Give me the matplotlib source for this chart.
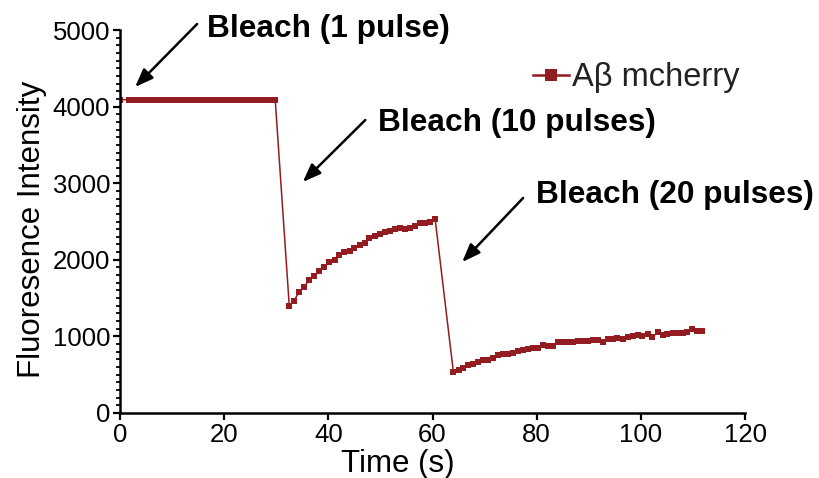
import matplotlib
matplotlib.use('Agg')
import matplotlib.pyplot as plt
from matplotlib.ticker import MultipleLocator

# Time points (s) for each part of the recording
time_pre = [0.0, 1.7, 2.7, 3.6, 4.6, 5.6, 6.5, 7.5, 8.5, 9.4, 10.4, 11.4, 12.3, 13.3,
            14.3, 15.2, 16.2, 17.2, 18.1, 19.1, 20.1, 21.0, 22.0, 23.0, 23.9, 24.9,
            25.9, 26.8, 27.8, 28.8, 29.8]
time_mid = [32.5, 33.4, 34.4, 35.4, 36.3, 37.3, 38.3, 39.2, 40.2, 41.2, 42.1, 43.1,
            44.1, 45.0, 46.0, 47.0, 47.9, 48.9, 49.9, 50.8, 51.8, 52.8, 53.7, 54.7,
            55.7, 56.6, 57.6, 58.6, 59.5, 60.5]
time_post = [64.0, 65.0, 65.9, 66.9, 67.8, 68.8, 69.7, 70.7, 71.6, 72.6, 73.6, 74.5,
             75.5, 76.4, 77.4, 78.3, 79.3, 80.3, 81.2, 82.2, 83.1, 84.1, 85.0, 86.0,
             86.9, 87.9, 88.9, 89.8, 90.8, 91.7, 92.7, 93.6, 94.6, 95.5, 96.5, 97.5,
             98.4, 99.4, 100.3, 101.3, 102.2, 103.2, 104.2, 105.1, 106.1, 107.0, 108.0,
             108.9, 109.9, 110.8, 111.8]

# Fluorescence intensity
intensity_pre = [4090] * 31
intensity_mid = [1396, 1466, 1579, 1649, 1736, 1788, 1853, 1905, 1971, 1997, 2062, 2101,
                 2118, 2153, 2197, 2223, 2284, 2314, 2340, 2358, 2379, 2405, 2418, 2401,
                 2418, 2444, 2480, 2480, 2493, 2536]
intensity_post = [539, 561, 587, 626, 639, 666, 692, 692, 722, 757, 770, 774, 787, 813,
                  826, 839, 848, 848, 891, 874, 874, 930, 930, 930, 930, 944, 944, 944,
                  957, 957, 930, 970, 970, 983, 961, 996, 1009, 1022, 1005, 1027, 988,
                  1053, 1022, 1035, 1048, 1048, 1048, 1061, 1092, 1074, 1074]

# Annotations: text, text position, arrow tail, arrow head
labels = ['Bleach (1 pulse)', 'Bleach (10 pulses)', 'Bleach (20 pulses)']
label_xy = [(16.7, 4909), (49.5, 3681), (79.9, 2742)]
arrow_tail = [(14.8, 5078), (47.1, 3825), (77.4, 2807)]
arrow_head = [(2.9, 4256), (35.1, 3016), (65.7, 1971)]

plt.rcParams['font.family'] = ['Liberation Sans', 'DejaVu Sans']

color = '#921c1f'

fig = plt.figure(figsize=(8.19, 4.78), dpi=100)
ax = fig.add_axes([120 / 819, 1 - 413 / 478, 625 / 819, 383 / 478])

times = time_pre + time_mid + time_post
values = intensity_pre + intensity_mid + intensity_post
ax.plot(times, values, color=color, linewidth=1.1, marker='s', markersize=4.8,
        markeredgewidth=0, label='Aβ mcherry')

ax.set_xlim(0, 120)
ax.set_ylim(0, 5000)
ax.xaxis.set_major_locator(MultipleLocator(20))
ax.yaxis.set_major_locator(MultipleLocator(1000))
ax.yaxis.set_minor_locator(MultipleLocator(100))

for side in ['top', 'right']:
    ax.spines[side].set_visible(False)
for side in ['left', 'bottom']:
    ax.spines[side].set_linewidth(1.8)
    ax.spines[side].set_color('black')

ax.tick_params(axis='both', which='major', direction='out', length=5, width=1.6,
               labelsize=18.5, pad=2)
ax.tick_params(axis='y', which='minor', direction='out', length=2.6, width=1.3)

ax.set_xlabel('Time (s)', fontsize=22.5, va='top')
ax.xaxis.set_label_coords(0.445, -0.095)
ax.set_ylabel('Fluoresence Intensity', fontsize=22.5)
ax.yaxis.set_label_coords(-0.117, 0.48)

# Arrows and labels for the bleach pulses
for text, pos, tail, head in zip(labels, label_xy, arrow_tail, arrow_head):
    ax.annotate('', xy=head, xytext=tail,
                arrowprops=dict(arrowstyle='-|>,head_length=1.1,head_width=0.42',
                                color='black', linewidth=1.8, shrinkA=0, shrinkB=0),
                annotation_clip=False)
    ax.text(pos[0], pos[1], text, fontsize=22.8, fontweight='bold', ha='left',
            va='baseline', clip_on=False)

leg = ax.legend(loc='center left', bbox_to_anchor=(0.661, 0.875), frameon=False,
                fontsize=23.5, handlelength=1.1, handletextpad=0.08, borderpad=0,
                borderaxespad=0, markerscale=1.8)
for t in leg.get_texts():
    t.set_color('#222222')
for h in leg.get_lines():
    h.set_linewidth(1.8)

fig.savefig('out.png', dpi=100)
